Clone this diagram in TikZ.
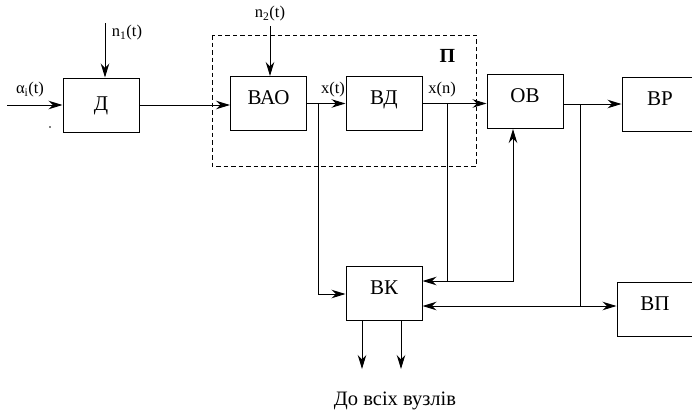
\documentclass[tikz,border=0pt]{standalone}
\usepackage{fontspec}
\setmainfont{Liberation Serif}
\usetikzlibrary{arrows.meta}
\begin{document}
\begin{tikzpicture}[x=1pt,y=-1pt,
  blk/.style={draw,line width=1pt,minimum width=76pt,minimum height=54pt,inner sep=0pt,
    text height=10pt,text depth=8pt,font=\fontsize{21}{22}\selectfont},
  lbl/.style={font=\fontsize{16.5}{17}\selectfont,inner sep=0pt},
  ln/.style={line width=1pt},
  arr/.style={ln,-{Stealth[length=14pt,width=8.5pt,inset=4.5pt]}},
  darr/.style={ln,{Stealth[length=14pt,width=8.5pt,inset=4.5pt]}-{Stealth[length=14pt,width=8.5pt,inset=4.5pt]}}]
\useasboundingbox (0,0) rectangle (692,413);
% dashed frame
\draw[ln,dash pattern=on 4.5pt off 3pt] (212,35) rectangle (476,166);
\node[font=\fontsize{20}{21}\selectfont\bfseries,inner sep=0pt] (P) at (447.5,56) {П};
% blocks
\node[blk,text height=14pt,text depth=4pt] (d) at (101,105) {Д};
\node[blk] (ao) at (268.5,103.5) {ВАО};
\node[blk] (vd) at (384,103.5) {ВД};
\node[blk] (ov) at (525,101.5) {ОВ};
\node[blk] (vr) at (660,104) {ВР};
\node[blk] (vk) at (384,293) {ВК};
\node[blk] (vp) at (655,309) {ВП};
% labels
\node[lbl] (alpha) at (30,90) {α\textsubscript{i}(t)};
\node[lbl] (n1) at (127,33) {n\textsubscript{1}(t)};
\node[lbl] (n2) at (270,14) {n\textsubscript{2}(t)};
\node[lbl] (xt) at (333,90) {x(t)};
\node[lbl] (xn) at (442,90) {x(n)};
\node[font=\fontsize{20.5}{21}\selectfont,inner sep=0pt] (out) at (395,401) {До всіх вузлів};
\fill (50,127) circle (0.9pt);
% input arrows
\coordinate (in) at (7,105);
\draw[arr] (in) -- (d.west);
\coordinate (n1top) at (105,23);
\draw[arr] (n1top) -- (n1top |- d.north);
\coordinate (n2top) at (270,26);
\draw[arr] (n2top) -- (n2top |- ao.north);
% main chain
\draw[arr] (d.east) -- (d.east -| ao.west);
\draw[arr] (ao.east) -- (vd.west);
\draw[arr] (vd.east) -- (vd.east -| ov.west);
\draw[arr] (ov.east |- vr.west) -- (vr.west);
% x(t) branch
\coordinate (bt) at (318,103.5);
\coordinate (bt2) at (318,294);
\draw[arr] (bt) -- (bt2) -- (bt2 -| vk.west);
% x(n) branch
\coordinate (bn) at (447,103.5);
\coordinate (bn2) at (447,281);
\coordinate (bn3) at (513,281);
\draw[arr] (bn) -- (bn2) -- (bn2 -| vk.east);
\draw[arr] (bn2) -- (bn3) -- (bn3 |- ov.south);
% OV branch
\coordinate (bo) at (580,104);
\coordinate (bo2) at (580,306);
\draw[ln] (bo) -- (bo2);
\draw[darr] (bo2 -| vk.east) -- (bo2 -| vp.west);
% outputs
\coordinate (o1) at (362,369);
\coordinate (o2) at (401,369);
\draw[arr] (o1 |- vk.south) -- (o1);
\draw[arr] (o2 |- vk.south) -- (o2);
\end{tikzpicture}
\end{document}
